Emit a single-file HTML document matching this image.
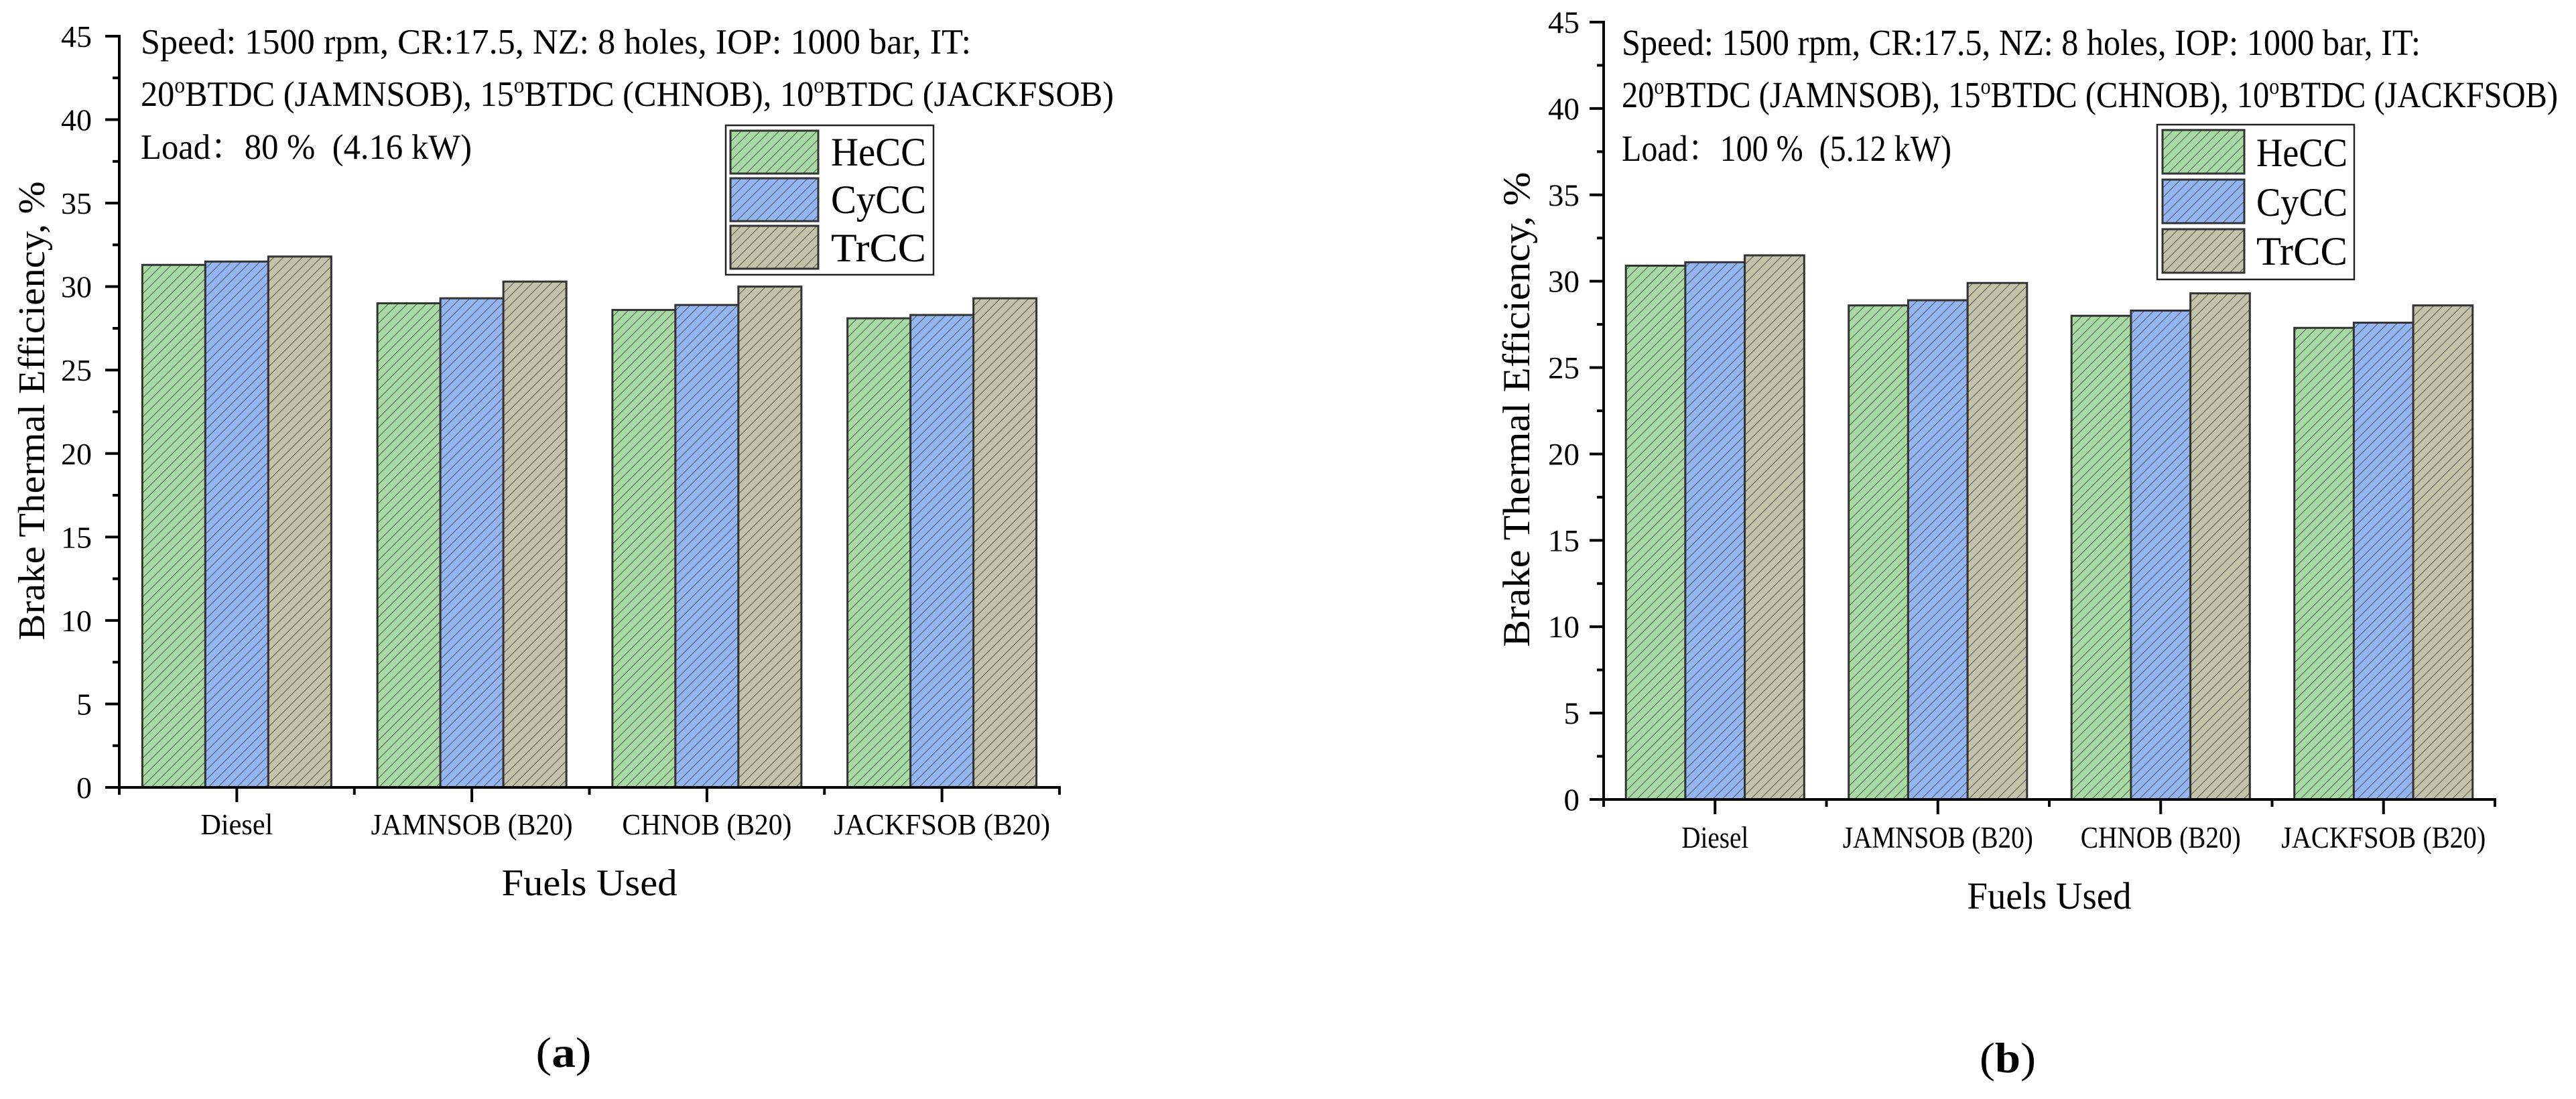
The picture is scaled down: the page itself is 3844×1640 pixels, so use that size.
<!DOCTYPE html>
<html><head><meta charset="utf-8"><style>
html,body{margin:0;padding:0;background:#fff;}
svg{display:block;}
</style></head><body>
<svg id="chart" width="3844" height="1640" viewBox="0 0 3844 1640" xmlns="http://www.w3.org/2000/svg" font-family="'Liberation Serif', 'Times New Roman', serif">
<defs>
<pattern id="hatch" patternUnits="userSpaceOnUse" width="10" height="10" patternTransform="rotate(45)">
<line x1="0" y1="0" x2="0" y2="10" stroke="#4a4a4a" stroke-width="1.8"/>
</pattern>
</defs>
<g id="root"></g>
</svg>
<script>
const categories = ["Diesel","JAMNSOB (B20)","CHNOB (B20)","JACKFSOB (B20)"];
const seriesNames = ["HeCC","CyCC","TrCC"];
const valuesA_HeCC = [31.3, 29.0, 28.6, 28.1];
const valuesA_CyCC = [31.5, 29.3, 28.9, 28.3];
const valuesA_TrCC = [31.8, 30.3, 30.0, 29.3];
const valuesB_HeCC = [30.9, 28.6, 28.0, 27.3];
const valuesB_CyCC = [31.1, 28.9, 28.3, 27.6];
const valuesB_TrCC = [31.5, 29.9, 29.3, 28.6];
const yTicks = [0,5,10,15,20,25,30,35,40,45];
const seriesColors = ["#a8dba4","#93b5f2","#c3c3a9"];

const NS = "http://www.w3.org/2000/svg";
const SERIF = "'Liberation Serif', 'Times New Roman', serif";
const SERIF_CJK = "'Liberation Serif', 'Noto Serif CJK SC', 'Noto Sans CJK SC', serif";
const root = document.getElementById('root');
function mk(tag, attrs, parent){
  const e = document.createElementNS(NS, tag);
  if (tag === 'text') e.setAttribute('font-family', SERIF);
  for (const k in attrs) e.setAttribute(k, attrs[k]);
  (parent||root).appendChild(e);
  return e;
}

const panels = [
 {id:'a', x0:178, x1:1581, y0:1175, y45:54, vals:[valuesA_HeCC,valuesA_CyCC,valuesA_TrCC], barW:94,
  ann:{x:210, ys:[80,158,237], lens:[1239,1452,494], load:"80 %  (4.16 kW)"}, tickRight:137,
  catY:1245, catLens:[108,301,253,323], xTitle:{y:1336,len:262}, yTitle:{x:66,y:613,len:685},
  legend:{bx:1083,by:187,bw:310,bh:223, sx:1090, sw:131, rows:[195,266,337], rh:64, tx:1240, tys:[247,318,390], tlen:142, fs:60},
  label:{t:"a", x:841, y:1592, len:83}, fs:{ann:53,tick:46,cat:44,title:56}},
 {id:'b', x0:2393, x1:3723, y0:1193, y45:33, vals:[valuesB_HeCC,valuesB_CyCC,valuesB_TrCC], barW:88.7,
  ann:{x:2420, ys:[82,160,240], lens:[1192,1397,492], load:"100 %  (5.12 kW)"}, tickRight:2357,
  catY:1265, catLens:[100,284,239,305], xTitle:{y:1356,len:245}, yTitle:{x:2282,y:611,len:709},
  legend:{bx:3219,by:186,bw:294,bh:231, sx:3227, sw:122, rows:[194,268,342], rh:65, tx:3367, tys:[248,322,395], tlen:136, fs:60},
  label:{t:"b", x:2996, y:1600, len:84}, fs:{ann:55,tick:47,cat:45,title:57}}
];

panels.forEach(p => {
  const g = mk('g', {});
  
  
  const yScale = v => p.y0 - (p.y0 - p.y45) * v / 45;
  const catW = (p.x1 - p.x0) / categories.length;
  const xCenter = i => p.x0 + catW * (i + 0.5);

  const bg = mk('g', {}, g);
  
  
  categories.forEach((c, i) => {
    p.vals.forEach((arr, s) => {
      const v = arr[i];
      const x = xCenter(i) - 1.5 * p.barW + s * p.barW;
      const y = yScale(v);
      const r = mk('rect', {x:x, y:y, width:p.barW, height:p.y0 - y, fill:seriesColors[s]}, bg);
      
      
      const h = mk('rect', {x:x, y:y, width:p.barW, height:p.y0 - y, fill:'url(#hatch)', stroke:'#333', 'stroke-width':3}, bg);
      
      
    });
  });

  const ax = mk('g', {stroke:'#000', 'stroke-width':4, fill:'none'}, g);
  
  
  mk('line', {x1:p.x0, y1:p.y45 - 2, x2:p.x0, y2:p.y0 + 11}, ax);
  mk('line', {x1:p.x0 - 21, y1:p.y0, x2:p.x1 + 2, y2:p.y0}, ax);
  for (let v = 0; v <= 45; v += 2.5) {
    const len = (v % 5 === 0) ? 21 : 10;
    mk('line', {x1:p.x0 - len, y1:yScale(v), x2:p.x0, y2:yScale(v)}, ax);
  }
  for (let i = 0; i <= categories.length; i++) {
    const x = p.x0 + catW * i;
    mk('line', {x1:x, y1:p.y0, x2:x, y2:p.y0 + 11}, ax);
  }
  categories.forEach((c, i) => {
    mk('line', {x1:xCenter(i), y1:p.y0, x2:xCenter(i), y2:p.y0 + 22}, ax);
  });

  yTicks.forEach(v => {
    const t = mk('text', {x:p.tickRight, y:yScale(v) + 16, 'text-anchor':'end', 'font-size':p.fs.tick}, g);
    
    
    t.textContent = v;
  });
  categories.forEach((c, i) => {
    const t = mk('text', {x:xCenter(i), y:p.catY, 'text-anchor':'middle', 'font-size':p.fs.cat, textLength:p.catLens[i], lengthAdjust:'spacingAndGlyphs'}, g);
    
    
    t.textContent = c;
  });
  const xt = mk('text', {x:(p.x0 + p.x1) / 2, y:p.xTitle.y, 'text-anchor':'middle', 'font-size':p.fs.title, textLength:p.xTitle.len, lengthAdjust:'spacingAndGlyphs'}, g);
  
  
  xt.textContent = 'Fuels Used';
  const yt = mk('text', {x:0, y:0, 'text-anchor':'middle', 'font-size':p.fs.title, textLength:p.yTitle.len, lengthAdjust:'spacingAndGlyphs', transform:'translate(' + p.yTitle.x + ',' + p.yTitle.y + ') rotate(-90)'}, g);
  
  
  yt.textContent = 'Brake Thermal Efficiency, %';

  const a1 = mk('text', {x:p.ann.x, y:p.ann.ys[0], 'font-size':p.fs.ann, textLength:p.ann.lens[0], lengthAdjust:'spacingAndGlyphs'}, g);
  
  
  a1.textContent = 'Speed: 1500 rpm, CR:17.5, NZ: 8 holes, IOP: 1000 bar, IT:';
  const a2 = mk('text', {x:p.ann.x, y:p.ann.ys[1], 'font-size':p.fs.ann, textLength:p.ann.lens[1], lengthAdjust:'spacingAndGlyphs'}, g);
  
  
  const parts = [['20',0],['o',1],['BTDC (JAMNSOB), 15',0],['o',1],['BTDC (CHNOB), 10',0],['o',1],['BTDC (JACKFSOB)',0]];
  parts.forEach(pt => {
    const ts = mk('tspan', pt[1] ? {'font-size':Math.round(p.fs.ann * 0.62), 'baseline-shift':'60%'} : {}, a2);
    ts.textContent = pt[0];
  });
  const a3 = mk('text', {x:p.ann.x, y:p.ann.ys[2], 'font-size':p.fs.ann, 'font-family':SERIF_CJK, textLength:p.ann.lens[2], lengthAdjust:'spacingAndGlyphs'}, g);
  
  
  a3.textContent = 'Load\uFF1A' + p.ann.load.replace('  ', '\u00A0 ');

  const L = p.legend;
  const lg = mk('g', {}, g);
  
  
  mk('rect', {x:L.bx, y:L.by, width:L.bw, height:L.bh, fill:'#fff', stroke:'#222', 'stroke-width':2.5}, lg);
  seriesNames.forEach((n, s) => {
    const e = mk('g', {}, lg);
    
    
    mk('rect', {x:L.sx, y:L.rows[s], width:L.sw, height:L.rh, fill:seriesColors[s]}, e);
    mk('rect', {x:L.sx, y:L.rows[s], width:L.sw, height:L.rh, fill:'url(#hatch)', stroke:'#333', 'stroke-width':3}, e);
    const t = mk('text', {x:L.tx, y:L.tys[s], 'font-size':L.fs, textLength:L.tlen, lengthAdjust:'spacingAndGlyphs'}, e);
    t.textContent = n;
  });

  const pl = mk('text', {x:p.label.x, y:p.label.y, 'text-anchor':'middle', 'font-size':64, textLength:p.label.len, lengthAdjust:'spacingAndGlyphs'}, g);
  
  
  const t1 = mk('tspan', {}, pl); t1.textContent = '(';
  const t2 = mk('tspan', {'font-weight':'bold'}, pl); t2.textContent = p.label.t;
  const t3 = mk('tspan', {}, pl); t3.textContent = ')';
});
</script>
</body></html>
